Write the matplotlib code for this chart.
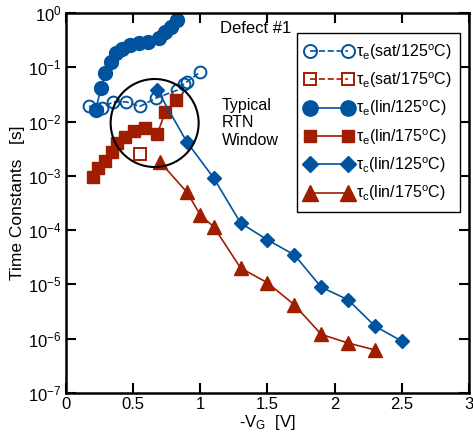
import numpy as np
import matplotlib
matplotlib.use("Agg")
import matplotlib.pyplot as plt
from matplotlib.patches import Circle
from matplotlib.transforms import ScaledTranslation

# tau_e (sat/125C), open circles
v_sat125 = [0.17, 0.27, 0.35, 0.45, 0.55, 0.67, 0.83, 0.88, 0.90, 1.00]
t_sat125 = [0.019, 0.018, 0.023, 0.023, 0.019, 0.027, 0.038, 0.050, 0.054, 0.082]

# tau_e (sat/175C), open square
v_sat175 = [0.55]
t_sat175 = [2.5e-3]

# tau_e (lin/125C), filled circles
v_lin125 = [0.22, 0.26, 0.29, 0.335, 0.37, 0.42, 0.48, 0.54, 0.61, 0.69, 0.74, 0.78, 0.83]
t_lin125 = [0.016, 0.041, 0.079, 0.125, 0.18, 0.22, 0.26, 0.28, 0.29, 0.35, 0.45, 0.55, 0.74]

# tau_e (lin/175C), filled squares
v_lin175 = [0.20, 0.24, 0.29, 0.34, 0.38, 0.44, 0.51, 0.59, 0.68, 0.74, 0.82]
t_lin175 = [9.5e-4, 1.4e-3, 1.9e-3, 2.8e-3, 4.0e-3, 5.3e-3, 6.6e-3, 7.6e-3, 6.0e-3, 1.5e-2, 2.5e-2]

# tau_c (lin/125C), diamonds
v_c125 = [0.68, 0.90, 1.10, 1.30, 1.50, 1.70, 1.90, 2.10, 2.30, 2.50]
t_c125 = [3.8e-2, 4.2e-3, 9.1e-4, 1.35e-4, 6.6e-5, 3.5e-5, 8.9e-6, 5.2e-6, 1.7e-6, 9.0e-7]

# tau_c (lin/175C), triangles
v_c175 = [0.70, 0.90, 1.00, 1.10, 1.30, 1.50, 1.70, 1.90, 2.10, 2.30]
t_c175 = [1.8e-3, 5.0e-4, 1.9e-4, 1.15e-4, 2.0e-5, 1.07e-5, 4.2e-6, 1.2e-6, 8.3e-7, 6.2e-7]

x_ticks = [0, 0.5, 1, 1.5, 2, 2.5, 3]
x_ticklabels = ["0", "0.5", "1", "1.5", "2", "2.5", "3"]

BLUE = "#00539f"
RED = "#a01d00"

plt.rcParams['font.family'] = ['Liberation Sans', 'DejaVu Sans']
plt.rcParams['mathtext.fontset'] = 'custom'
plt.rcParams['mathtext.rm'] = 'Liberation Sans'
plt.rcParams['mathtext.it'] = 'Liberation Sans:italic'
plt.rcParams['mathtext.default'] = 'regular'
plt.rcParams['axes.unicode_minus'] = False

fig = plt.figure(figsize=(4.73, 4.41), dpi=100)
ax = fig.add_axes([0.1395, 0.109, 0.852, 0.8615])

ax.plot(v_sat125, t_sat125, linestyle='--', color=BLUE, marker='o', markersize=8.5,
        markerfacecolor='none', markeredgewidth=1.4, linewidth=1.2,
        label='τ$_e$(sat/125$^o$C)')
ax.plot(v_sat175, t_sat175, linestyle='--', color=RED, marker='s', markersize=8,
        markerfacecolor='none', markeredgewidth=1.4, linewidth=1.2,
        label='τ$_e$(sat/175$^o$C)')
ax.plot(v_lin125, t_lin125, linestyle='-', color=BLUE, marker='o', markersize=10,
        linewidth=1.2, label='τ$_e$(lin/125$^o$C)')
ax.plot(v_lin175, t_lin175, linestyle='-', color=RED, marker='s', markersize=8.5,
        linewidth=1.2, label='τ$_e$(lin/175$^o$C)')
ax.plot(v_c125, t_c125, linestyle='-', color=BLUE, marker='D', markersize=7.5,
        linewidth=1.2, label='τ$_c$(lin/125$^o$C)')
ax.plot(v_c175, t_c175, linestyle='-', color=RED, marker='^', markersize=10,
        linewidth=1.2, label='τ$_c$(lin/175$^o$C)')

# typical RTN window circle (radius in inches)
circ = Circle((0, 0), 0.44, transform=fig.dpi_scale_trans +
              ScaledTranslation(0.66, 9.4e-3, ax.transData),
              fill=False, edgecolor='black', linewidth=1.5, zorder=5)
ax.add_patch(circ)

ax.text(1.15, 0.52, 'Defect #1', fontsize=12, ha='left', va='center')
ax.text(1.16, 9.5e-3, 'Typical\nRTN\nWindow', fontsize=11.5, ha='left', va='center',
        linespacing=1.2)

ax.set_yscale('log')
ax.set_xlim(0, 3)
ax.set_ylim(1e-7, 1)
ax.set_xticks(x_ticks)
ax.set_xticklabels(x_ticklabels)
ax.set_yticks([10.0 ** k for k in range(-7, 1)])
ax.minorticks_off()
ax.tick_params(axis='both', which='major', direction='in', length=7, width=1.5,
               top=True, right=True, labelsize=12, pad=3)
for s in ax.spines.values():
    s.set_linewidth(1.8)

ax.set_xlabel('-V$_G$  [V]', fontsize=12, labelpad=1)
ax.set_ylabel('Time Constants   [s]', fontsize=12.5, labelpad=2)

leg = ax.legend(loc='upper right', bbox_to_anchor=(0.978, 0.947), fontsize=11.5,
                frameon=True, fancybox=False, edgecolor='black', framealpha=1,
                numpoints=2, handlelength=3.0, handletextpad=0.15, borderpad=0.55,
                labelspacing=0.55, borderaxespad=0, markerscale=1.1)
leg.get_frame().set_linewidth(1.0)

plt.savefig('out.png', dpi=100)
